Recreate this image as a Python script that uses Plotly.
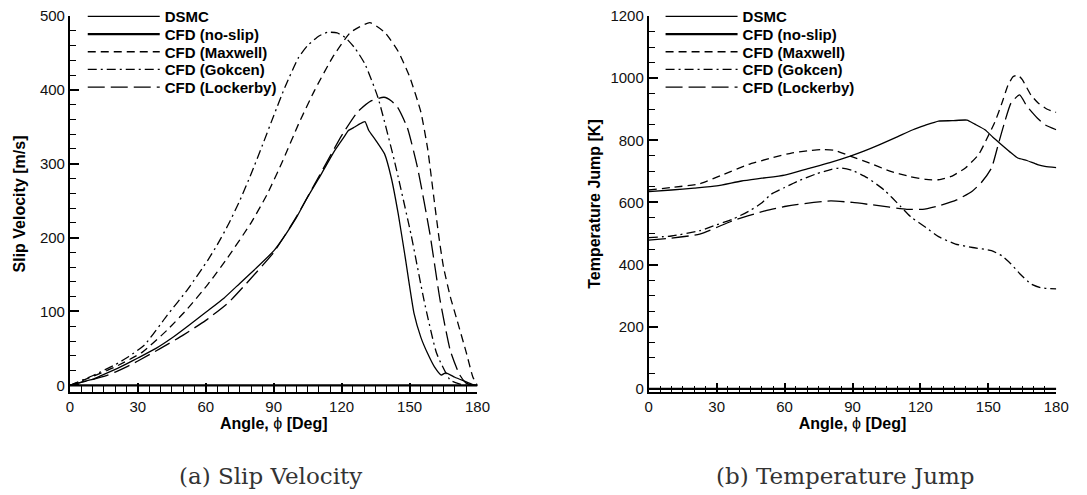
import plotly.graph_objects as go

# ---------------- data: (a) slip velocity [m/s] ----------------
sv_dsmc_x = [0, 5, 10, 14, 21, 25, 30, 38, 45, 52, 60, 68, 75, 82, 90, 95, 100, 105, 111, 117,
             121, 123, 126, 128, 130.3, 132, 135, 139, 142, 145, 148, 152, 155, 158, 161, 164,
             166, 170, 174, 178, 180]
sv_dsmc_y = [0, 4.5, 8, 13.5, 23, 29, 37, 50, 64, 80, 99, 118, 138, 158, 182, 203, 227, 255, 286, 318,
             336, 345, 350, 354, 357, 345, 332, 313, 280, 232, 175, 97, 65, 43, 25, 14,
             17, 11, 6, 1, 0]

sv_noslip_x = [0, 180]
sv_noslip_y = [0, 0]

sv_maxwell_x = [0, 10, 20, 32, 43, 52, 61, 69, 80, 87, 94, 101, 108, 116, 124, 132.5, 139, 145, 150,
                155, 158, 160.7, 163, 165, 168, 171, 175, 178, 180]
sv_maxwell_y = [0, 12, 25, 45, 75, 104, 137, 170, 220, 258, 304, 354, 399, 444, 478, 491, 478, 452, 418,
                370, 320, 255, 200, 160, 120, 88, 45, 11, 0]

sv_gokcen_x = [0, 10, 20, 26, 33, 43, 52, 61, 65, 70, 75, 80, 85, 90, 95, 101, 105, 110, 114,
               118, 121.6, 126, 130.3, 136, 143.3, 150.6, 156.4, 162, 168, 172, 175, 180]
sv_gokcen_y = [0, 13, 28, 39, 55, 95, 130, 170, 190, 218, 250, 286, 325, 365, 404, 444, 460, 473, 478,
               477, 471, 456, 435, 390, 304, 205, 115, 43, 7, 2, 0, 0]

sv_lockerby_x = [0, 5, 10, 15, 20, 25, 30, 40, 50, 60, 70, 80, 90, 100, 110, 120, 127, 133, 138.7,
                 142, 144.8, 149, 153.5, 159, 163.5, 168, 172, 175, 178, 180]
sv_lockerby_y = [0, 4, 8, 12, 18, 25, 33, 50, 68, 88, 112, 145, 180, 228, 283, 338, 370, 385, 390,
                 385, 376, 349, 295, 205, 115, 47, 15, 3, 0, 0]

# ---------------- data: (b) temperature jump [K] ----------------
tj_dsmc_x = [0, 10, 20, 30, 41, 50, 60, 70, 80, 89, 95, 102, 110, 116.7, 122, 128, 134, 140.6, 144,
             148.5, 152, 155.8, 160, 163, 167, 171.7, 175, 180]
tj_dsmc_y = [635, 640, 646, 653, 669, 678, 688, 708, 728, 749, 765, 786, 812, 834, 848, 862, 863, 865,
             852, 834, 810, 786, 760, 743, 735, 722, 716, 712]

tj_noslip_x = [0, 180]
tj_noslip_y = [0, 0]

tj_maxwell_x = [0, 10, 22.5, 33, 44, 55, 63, 70, 76, 82, 89, 97, 106.5, 115, 122.5, 128, 134, 140,
                145.7, 149, 153, 156, 158.7, 161, 163, 165, 168.8, 172, 176, 180]
tj_maxwell_y = [640, 648, 660, 690, 722, 745, 759, 766, 770, 768, 749, 728, 701, 684, 674, 673, 685, 712,
                754, 800, 861, 920, 978, 1005, 1010, 995, 946, 920, 900, 890]

tj_gokcen_x = [0, 10, 22.5, 30, 37, 45, 50, 54, 60, 66, 74, 80.4, 84.8, 90, 96.4, 104, 111, 116,
               122.5, 128, 135.5, 143, 151.4, 156, 160, 164, 168.8, 173, 176, 180]
tj_gokcen_y = [487, 492, 509, 528, 546, 575, 599, 626, 648, 669, 692, 706, 711, 703, 680, 640, 589, 552,
               519, 490, 466, 455, 445, 428, 402, 370, 338, 326, 323, 322]

tj_lockerby_x = [0, 10, 22.5, 37, 51.4, 60, 66, 80.4, 90, 99, 114, 121, 128, 136, 143, 147, 151.4,
                 154.5, 157.3, 160, 163.8, 167, 171.7, 175, 180]
tj_lockerby_y = [479, 485, 498, 541, 573, 587, 594, 605, 600, 592, 578, 578, 589, 608, 637, 665, 711,
                 790, 861, 920, 946, 910, 871, 850, 834]

names = ["DSMC", "CFD (no-slip)", "CFD (Maxwell)", "CFD (Gokcen)", "CFD (Lockerby)"]
dashes = ["solid", "solid", "8px,5px", "9px,4px,2px,4px", "17px,6px"]
widths = [1.3, 2.2, 1.3, 1.3, 1.3]

left_series = [(sv_dsmc_x, sv_dsmc_y), (sv_noslip_x, sv_noslip_y), (sv_maxwell_x, sv_maxwell_y),
               (sv_gokcen_x, sv_gokcen_y), (sv_lockerby_x, sv_lockerby_y)]
right_series = [(tj_dsmc_x, tj_dsmc_y), (tj_noslip_x, tj_noslip_y), (tj_maxwell_x, tj_maxwell_y),
                (tj_gokcen_x, tj_gokcen_y), (tj_lockerby_x, tj_lockerby_y)]

W, H = 1087, 495
T_MARGIN, B_MARGIN = 15, 103
PLOT_H = H - T_MARGIN - B_MARGIN

fig = go.Figure()

legend_ids = ["legend"] + ["legend%d" % i for i in range(2, 11)]

for k, ((x, y), n, d, w) in enumerate(zip(left_series, names, dashes, widths)):
    fig.add_trace(go.Scatter(x=x, y=y, mode="lines", name=n, xaxis="x", yaxis="y",
                             legend=legend_ids[k],
                             line=dict(color="black", width=w, dash=d, shape="spline", smoothing=0.5)))
for k, ((x, y), n, d, w) in enumerate(zip(right_series, names, dashes, widths)):
    fig.add_trace(go.Scatter(x=x, y=y, mode="lines", name=n, xaxis="x2", yaxis="y2",
                             legend=legend_ids[k + 5],
                             line=dict(color="black", width=w, dash=d, shape="spline", smoothing=0.5)))

tickfont = dict(family="Liberation Sans, Arial, sans-serif", size=15, color="#111")
titlefont = dict(family="Liberation Sans, Arial, sans-serif", size=16, color="black")


def xaxis(domain, anchor):
    return dict(domain=domain, anchor=anchor, range=[0, 180], tick0=0, dtick=30,
                ticks="inside", ticklen=9, tickwidth=2, tickcolor="black",
                minor=dict(dtick=5, ticks="inside", ticklen=6, tickwidth=1.2, tickcolor="black"),
                showline=True, linewidth=2, linecolor="black", showgrid=False, zeroline=False,
                tickfont=tickfont,
                title=dict(text="<b>Angle, </b>ϕ<b> [Deg]</b>", font=titlefont, standoff=1))


def yaxis(anchor, rng, dt, mdt, title, standoff):
    return dict(anchor=anchor, domain=[0, 1], range=rng, tick0=0, dtick=dt,
                ticks="inside", ticklen=9, tickwidth=2, tickcolor="black",
                minor=dict(dtick=mdt, ticks="inside", ticklen=6, tickwidth=1.2, tickcolor="black"),
                showline=True, linewidth=2, linecolor="black", showgrid=False, zeroline=False,
                tickfont=tickfont,
                title=dict(text="<b>%s</b>" % title, font=titlefont, standoff=standoff))


legend_common = dict(font=dict(family="Liberation Sans, Arial, sans-serif", size=15,
                               color="black", weight="bold"),
                     bgcolor="rgba(0,0,0,0)", borderwidth=0, itemwidth=72,
                     xanchor="left", yanchor="middle", tracegroupgap=0,
                     itemclick=False, itemdoubleclick=False)

row_px = [15.7, 33.4, 51.1, 68.8, 86.5]
layout_legends = {}
for k in range(10):
    py = row_px[k % 5]
    x0 = 80 if k < 5 else 667
    layout_legends[legend_ids[k]] = dict(x=x0 / W, y=(H - B_MARGIN - py) / PLOT_H, **legend_common)

cap_font = dict(family="DejaVu Serif, serif", size=23, color="#333")

fig.update_layout(
    width=W, height=H,
    margin=dict(l=0, r=0, t=T_MARGIN, b=B_MARGIN),
    paper_bgcolor="white", plot_bgcolor="white",
    showlegend=True,
    xaxis=xaxis([67 / W, 481 / W], "y"),
    yaxis=yaxis("x", [-9, 500], 100, 20, "Slip Velocity [m/s]", 10),
    xaxis2=xaxis([655 / W, 1069 / W], "y2"),
    yaxis2=yaxis("x2", [-10, 1200], 200, 50, "Temperature Jump [K]", 6),
    annotations=[
        dict(text="(a) Slip Velocity", xref="paper", yref="paper", x=270.5 / W, y=-0.223,
             xanchor="center", yanchor="middle", showarrow=False, font=cap_font),
        dict(text="(b) Temperature Jump", xref="paper", yref="paper", x=855 / W, y=-0.223,
             xanchor="center", yanchor="middle", showarrow=False, font=cap_font),
    ],
    **layout_legends,
)

fig.write_html("out.html")
